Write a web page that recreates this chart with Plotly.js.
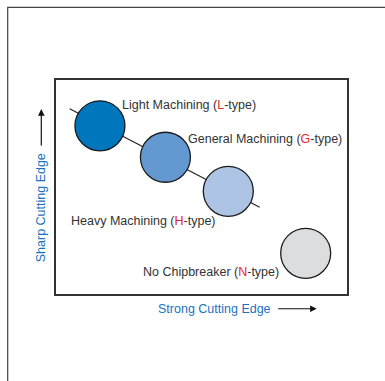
<!DOCTYPE html>
<html>
<head>
<meta charset="utf-8">
<script src="https://cdn.plot.ly/plotly-3.0.1.min.js"></script>
<style>html,body{margin:0;padding:0;background:#fff;}#chart{width:385px;height:381px;}</style>
</head>
<body>
<div id="chart"></div>
<script>
// Chipbreaker types: position on strength (x) vs sharpness (y)
const types = ["L", "G", "H", "N"];
const typeNames = ["Light Machining", "General Machining", "Heavy Machining", "No Chipbreaker"];
const strength = [1.51, 3.76, 5.92, 8.58];
const sharpness = [7.86, 6.39, 4.80, 1.90];
const fillColors = ["#0077bd", "#6399d0", "#aec4e4", "#dcdddf"];
// trend line through the chipbreaker family
const trendX = [0.47, 7.0];
const trendY = [8.66, 4.05];
// label anchor positions
const labelX = [2.24, 4.50, 0.47, 2.95];
const labelY = [8.85, 7.26, 3.43, 1.04];
const xTitle = "Strong Cutting Edge";
const yTitle = "Sharp Cutting Edge";

const textColor = "#333333";
const accent = "#e8262b";
const titleColor = "#1a72bf";
const fontFam = "Liberation Sans, Arial, sans-serif";

const traces = [
  {x: trendX, y: trendY, mode: "lines", line: {color: "#222", width: 1.2}, hoverinfo: "skip", showlegend: false},
  {x: strength, y: sharpness, mode: "markers", showlegend: false,
   marker: {size: 50, color: fillColors, line: {color: "#1a1a1a", width: 1.3}}}
];

const annotations = types.map((t, i) => ({
  x: labelX[i], y: labelY[i], xref: "x", yref: "y", xanchor: "left", yanchor: "middle",
  showarrow: false, borderpad: 0,
  text: typeNames[i] + " (<span style='color:" + accent + "'>" + t + "</span>-type)",
  font: {family: fontFam, size: 12.5, color: textColor}
}));

annotations.push(
  {x: 0.545, y: -0.069, xref: "paper", yref: "paper", xanchor: "center", yanchor: "middle",
   showarrow: false, text: xTitle, borderpad: 0,
   font: {family: fontFam, size: 12.5, color: titleColor}},
  {x: 0.896, y: -0.069, xref: "paper", yref: "paper", showarrow: true, text: "",
   ax: -40, ay: 0, arrowhead: 2, arrowsize: 1.1, arrowwidth: 1.2, arrowcolor: "#111"},
  {x: -0.0505, y: 0.402, xref: "paper", yref: "paper", xanchor: "center", yanchor: "middle",
   showarrow: false, text: yTitle, textangle: -90, borderpad: 0,
   font: {family: fontFam, size: 12.5, color: titleColor}},
  {x: -0.0505, y: 0.864, xref: "paper", yref: "paper", showarrow: true, text: "",
   ax: 0, ay: 38, arrowhead: 2, arrowsize: 1.1, arrowwidth: 1.2, arrowcolor: "#111"}
);

const layout = {
  width: 385, height: 381,
  margin: {l: 56, r: 38, t: 80, b: 87, pad: 0},
  paper_bgcolor: "#fff", plot_bgcolor: "#fff",
  xaxis: {range: [0, 10], showgrid: false, zeroline: false, showticklabels: false, ticks: "",
          showline: true, mirror: true, linecolor: "#333", linewidth: 1.6, fixedrange: true},
  yaxis: {range: [0, 10], showgrid: false, zeroline: false, showticklabels: false, ticks: "",
          showline: true, mirror: true, linecolor: "#333", linewidth: 1.6, fixedrange: true},
  annotations: annotations,
  shapes: [
    {type: "rect", xref: "paper", yref: "paper", x0: -0.166, x1: 1.17, y0: -0.46, y1: 1.339,
     line: {color: "#444", width: 1.2}, fillcolor: "rgba(0,0,0,0)", layer: "below"}
  ],
  showlegend: false
};

Plotly.newPlot("chart", traces, layout, {displayModeBar: false, staticPlot: true});
</script>
</body>
</html>
